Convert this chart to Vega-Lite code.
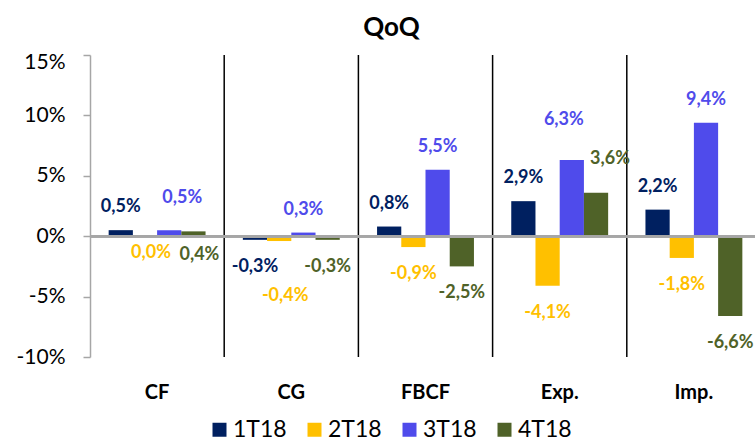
{
  "$schema": "https://vega.github.io/schema/vega-lite/v6.json",
  "width": 665,
  "height": 302,
  "autosize": {"type": "none"},
  "padding": {"left": 90, "top": 55, "right": 0, "bottom": 85},
  "background": "white",
  "title": {"text": "QoQ", "font": "Lato", "fontSize": 26, "fontWeight": "bold", "color": "#000000", "anchor": "middle", "frame": "group", "dx": -31, "offset": 10},
  "config": {"view": {"stroke": null}},
  "data": {"values": [
    {"cat": "CF", "q": "1T18", "v": 0.5, "label": "0,5%"},
    {"cat": "CF", "q": "2T18", "v": 0.0, "label": "0,0%"},
    {"cat": "CF", "q": "3T18", "v": 0.5, "label": "0,5%"},
    {"cat": "CF", "q": "4T18", "v": 0.4, "label": "0,4%"},
    {"cat": "CG", "q": "1T18", "v": -0.3, "label": "-0,3%"},
    {"cat": "CG", "q": "2T18", "v": -0.4, "label": "-0,4%"},
    {"cat": "CG", "q": "3T18", "v": 0.3, "label": "0,3%"},
    {"cat": "CG", "q": "4T18", "v": -0.3, "label": "-0,3%"},
    {"cat": "FBCF", "q": "1T18", "v": 0.8, "label": "0,8%"},
    {"cat": "FBCF", "q": "2T18", "v": -0.9, "label": "-0,9%"},
    {"cat": "FBCF", "q": "3T18", "v": 5.5, "label": "5,5%"},
    {"cat": "FBCF", "q": "4T18", "v": -2.5, "label": "-2,5%"},
    {"cat": "Exp.", "q": "1T18", "v": 2.9, "label": "2,9%"},
    {"cat": "Exp.", "q": "2T18", "v": -4.1, "label": "-4,1%"},
    {"cat": "Exp.", "q": "3T18", "v": 6.3, "label": "6,3%"},
    {"cat": "Exp.", "q": "4T18", "v": 3.6, "label": "3,6%"},
    {"cat": "Imp.", "q": "1T18", "v": 2.2, "label": "2,2%"},
    {"cat": "Imp.", "q": "2T18", "v": -1.8, "label": "-1,8%"},
    {"cat": "Imp.", "q": "3T18", "v": 9.4, "label": "9,4%"},
    {"cat": "Imp.", "q": "4T18", "v": -6.6, "label": "-6,6%"}
  ]},
  "layer": [
    {
      "mark": {"type": "bar"},
      "encoding": {
        "x": {"field": "cat", "type": "nominal", "sort": ["CF", "CG", "FBCF", "Exp.", "Imp."],
              "scale": {"domain": ["CF", "CG", "FBCF", "Exp.", "Imp."], "range": [0, 671], "paddingInner": 0, "paddingOuter": 0},
              "axis": {"title": null, "labelAngle": 0, "ticks": false, "tickSize": 0, "domain": false, "grid": false,
                       "labelFont": "Lato", "labelFontSize": 20, "labelFontWeight": "bold", "labelColor": "#000000",
                       "labelBaseline": "middle", "labelPadding": 35}},
        "xOffset": {"field": "q", "type": "nominal", "sort": null, "scale": {"paddingInner": 0, "paddingOuter": 0.77}},
        "y": {"field": "v", "type": "quantitative",
              "scale": {"domain": [-10, 15], "nice": false, "zero": false},
              "axis": {"title": null, "values": [-10, -5, 0, 5, 10, 15], "labelExpr": "datum.value + '%'",
                       "grid": false, "domainColor": "#A6A6A6", "domainWidth": 1.5, "tickColor": "#A6A6A6", "tickWidth": 1.5, "tickSize": 7,
                       "labelFont": "Lato", "labelFontSize": 21, "labelColor": "#000000", "labelPadding": 18,
                       "labelOffset": {"condition": {"test": "datum.value === 15", "value": 7}, "value": 0}}},
        "color": {"field": "q", "type": "nominal", "sort": null,
                  "scale": {"domain": ["1T18", "2T18", "3T18", "4T18"], "range": ["#002060", "#FFC000", "#4F4BEB", "#4F6228"]},
                  "legend": {"title": null, "orient": "none", "legendX": 118, "legendY": 363, "direction": "horizontal",
                             "symbolType": "square", "symbolSize": 196, "symbolStrokeWidth": 0, "symbolOpacity": 1,
                             "labelFont": "Lato", "labelFontSize": 23, "labelColor": "#000000", "labelOffset": 2, "columnPadding": 16}}
      }
    },
    {
      "transform": [{"filter": "datum.q === '1T18' && datum.cat !== 'CF'"}],
      "mark": {"type": "rule", "color": "#000000", "strokeWidth": 1.5},
      "encoding": {
        "x": {"field": "cat", "type": "nominal", "sort": ["CF", "CG", "FBCF", "Exp.", "Imp."], "bandPosition": 0}
      }
    },
    {
      "mark": {"type": "rule", "color": "#A6A6A6", "strokeWidth": 2},
      "encoding": {"y": {"datum": 0, "type": "quantitative"}}
    },
    {
      "transform": [{"filter": "datum.v > 0 && indexof(['CF|3T18','CF|4T18','Exp.|3T18','Exp.|4T18'], datum.cat + '|' + datum.q) < 0"}],
      "mark": {"type": "text", "font": "Lato", "fontSize": 18, "fontWeight": "bold", "baseline": "middle", "dy": -23},
      "encoding": {
        "x": {"field": "cat", "type": "nominal", "sort": ["CF", "CG", "FBCF", "Exp.", "Imp."]},
        "xOffset": {"field": "q", "type": "nominal", "sort": null},
        "y": {"field": "v", "type": "quantitative"},
        "text": {"field": "label"},
        "color": {"field": "q", "type": "nominal", "legend": null}
      }
    },
    {
      "transform": [{"filter": "datum.v < 0 && indexof(['CG|2T18'], datum.cat + '|' + datum.q) < 0"}],
      "mark": {"type": "text", "font": "Lato", "fontSize": 18, "fontWeight": "bold", "baseline": "middle", "dy": 27},
      "encoding": {
        "x": {"field": "cat", "type": "nominal", "sort": ["CF", "CG", "FBCF", "Exp.", "Imp."]},
        "xOffset": {"field": "q", "type": "nominal", "sort": null},
        "y": {"field": "v", "type": "quantitative"},
        "text": {"field": "label"},
        "color": {"field": "q", "type": "nominal", "legend": null}
      }
    },
    {
      "transform": [{"filter": "datum.cat === 'CF' && datum.q === '2T18'"}],
      "mark": {"type": "text", "font": "Lato", "fontSize": 18, "fontWeight": "bold", "baseline": "middle", "dx": 6, "dy": 17},
      "encoding": {
        "x": {"field": "cat", "type": "nominal", "sort": ["CF", "CG", "FBCF", "Exp.", "Imp."]},
        "xOffset": {"field": "q", "type": "nominal", "sort": null},
        "y": {"field": "v", "type": "quantitative"},
        "text": {"field": "label"},
        "color": {"field": "q", "type": "nominal", "legend": null}
      }
    },
    {
      "transform": [{"filter": "datum.cat === 'CF' && datum.q === '3T18'"}],
      "mark": {"type": "text", "font": "Lato", "fontSize": 18, "fontWeight": "bold", "baseline": "middle", "dx": 13, "dy": -32},
      "encoding": {
        "x": {"field": "cat", "type": "nominal", "sort": ["CF", "CG", "FBCF", "Exp.", "Imp."]},
        "xOffset": {"field": "q", "type": "nominal", "sort": null},
        "y": {"field": "v", "type": "quantitative"},
        "text": {"field": "label"},
        "color": {"field": "q", "type": "nominal", "legend": null}
      }
    },
    {
      "transform": [{"filter": "datum.cat === 'CF' && datum.q === '4T18'"}],
      "mark": {"type": "text", "font": "Lato", "fontSize": 18, "fontWeight": "bold", "baseline": "middle", "dx": 6, "dy": 24},
      "encoding": {
        "x": {"field": "cat", "type": "nominal", "sort": ["CF", "CG", "FBCF", "Exp.", "Imp."]},
        "xOffset": {"field": "q", "type": "nominal", "sort": null},
        "y": {"field": "v", "type": "quantitative"},
        "text": {"field": "label"},
        "color": {"field": "q", "type": "nominal", "legend": null}
      }
    },
    {
      "transform": [{"filter": "datum.cat === 'CG' && datum.q === '2T18'"}],
      "mark": {"type": "text", "font": "Lato", "fontSize": 18, "fontWeight": "bold", "baseline": "middle", "dx": 6, "dy": 55},
      "encoding": {
        "x": {"field": "cat", "type": "nominal", "sort": ["CF", "CG", "FBCF", "Exp.", "Imp."]},
        "xOffset": {"field": "q", "type": "nominal", "sort": null},
        "y": {"field": "v", "type": "quantitative"},
        "text": {"field": "label"},
        "color": {"field": "q", "type": "nominal", "legend": null}
      }
    },
    {
      "transform": [{"filter": "datum.cat === 'Exp.' && datum.q === '3T18'"}],
      "mark": {"type": "text", "font": "Lato", "fontSize": 18, "fontWeight": "bold", "baseline": "middle", "dx": -8, "dy": -40},
      "encoding": {
        "x": {"field": "cat", "type": "nominal", "sort": ["CF", "CG", "FBCF", "Exp.", "Imp."]},
        "xOffset": {"field": "q", "type": "nominal", "sort": null},
        "y": {"field": "v", "type": "quantitative"},
        "text": {"field": "label"},
        "color": {"field": "q", "type": "nominal", "legend": null}
      }
    },
    {
      "transform": [{"filter": "datum.cat === 'Exp.' && datum.q === '4T18'"}],
      "mark": {"type": "text", "font": "Lato", "fontSize": 18, "fontWeight": "bold", "baseline": "middle", "dx": 14, "dy": -34},
      "encoding": {
        "x": {"field": "cat", "type": "nominal", "sort": ["CF", "CG", "FBCF", "Exp.", "Imp."]},
        "xOffset": {"field": "q", "type": "nominal", "sort": null},
        "y": {"field": "v", "type": "quantitative"},
        "text": {"field": "label"},
        "color": {"field": "q", "type": "nominal", "legend": null}
      }
    }
  ]
}
